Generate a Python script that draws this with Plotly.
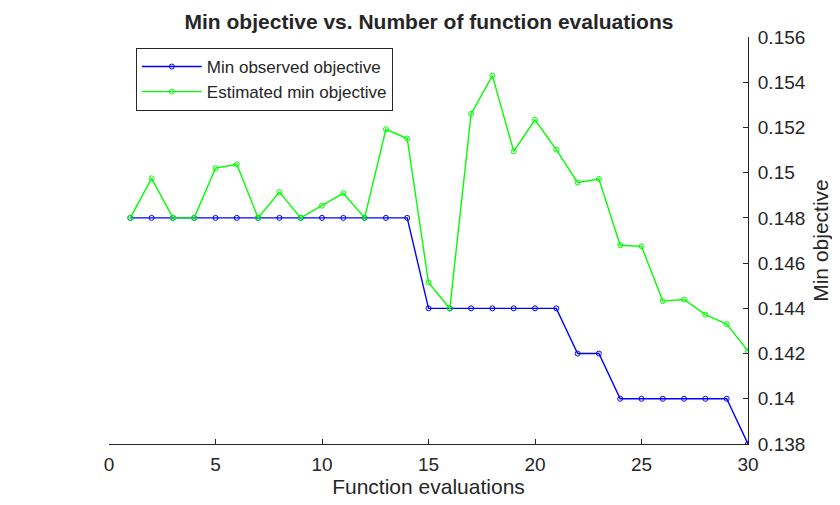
import plotly.graph_objects as go

evals = list(range(1, 31))
min_observed = [0.148]*14 + [0.144]*7 + [0.142]*2 + [0.140]*6 + [0.138]
est_min = [0.148, 0.14975, 0.148, 0.148, 0.1502, 0.15037, 0.148, 0.14914, 0.148, 0.14854,
           0.14909, 0.148, 0.15192, 0.15151, 0.14514, 0.14399, 0.1526, 0.15429, 0.15094, 0.15234,
           0.15102, 0.14957, 0.14972, 0.14679, 0.14674, 0.14432, 0.14439, 0.14372, 0.1433, 0.14211]

y_ticks = [0.138, 0.14, 0.142, 0.144, 0.146, 0.148, 0.15, 0.152, 0.154, 0.156]
y_ticktext = ["0.138", "0.14", "0.142", "0.144", "0.146", "0.148", "0.15", "0.152", "0.154", "0.156"]
x_ticks = [0, 5, 10, 15, 20, 25, 30]

font_fam = "Liberation Sans, Arial, sans-serif"
txt = "#262626"

W, H = 832, 497
L, R, T, B = 101, 91, 29, 55

fig = go.Figure()
fig.add_trace(go.Scatter(x=evals, y=min_observed, mode="lines+markers", name="Min observed objective",
                         line=dict(color="#0000ff", width=1.4),
                         marker=dict(symbol="circle-open", size=5, color="#0000ff", line=dict(width=1))))
fig.add_trace(go.Scatter(x=evals, y=est_min, mode="lines+markers", name="Estimated min objective",
                         line=dict(color="#00ff00", width=1.4),
                         marker=dict(symbol="circle-open", size=5, color="#00ff00", line=dict(width=1))))

fig.update_layout(
    width=W, height=H,
    margin=dict(l=L, r=R, t=T, b=B),
    paper_bgcolor="white", plot_bgcolor="white",
    font=dict(family=font_fam, color=txt, size=20),
    title=dict(text="<b>Min objective vs. Number of function evaluations</b>",
               x=(L + (W - L - R) / 2) / W, xanchor="center", y=1 - 14 / H, yanchor="middle",
               font=dict(size=21, color=txt)),
    showlegend=True,
    legend=dict(x=0.042, y=0.973, xanchor="left", yanchor="top",
                bordercolor="#262626", borderwidth=1, bgcolor="white",
                font=dict(size=17, color=txt), tracegroupgap=0, itemwidth=60),
    xaxis=dict(range=[0, 30], tickvals=x_ticks, showgrid=False, zeroline=False,
               showline=True, linecolor="#262626", linewidth=1,
               ticks="inside", ticklen=5, tickcolor="#262626", ticklabelstandoff=3,
               title=dict(text="Function evaluations", font=dict(size=21, color=txt), standoff=4),
               tickfont=dict(size=19, color=txt)),
    yaxis=dict(range=[0.138, 0.156], side="right", tickvals=y_ticks, ticktext=y_ticktext,
               showgrid=False, zeroline=False,
               showline=True, linecolor="#262626", linewidth=1,
               ticks="inside", ticklen=5, tickcolor="#262626", ticklabelstandoff=5,
               title=dict(text="Min objective", font=dict(size=21, color=txt), standoff=8),
               tickfont=dict(size=19, color=txt)),
)

fig.write_html("out.html")
